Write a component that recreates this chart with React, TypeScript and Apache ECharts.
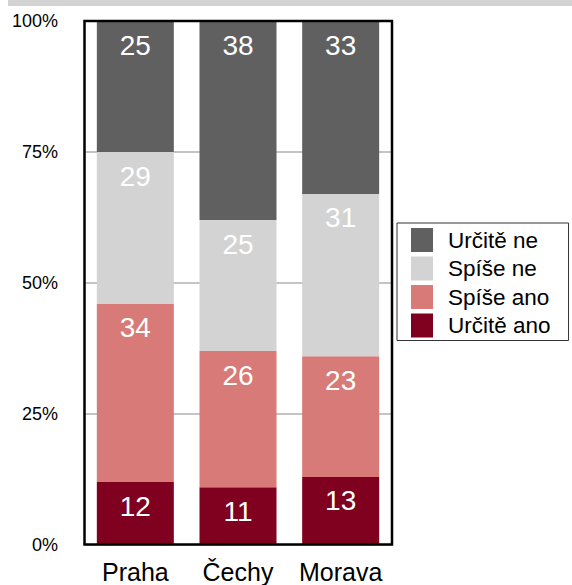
import React, { useEffect, useRef } from "react";
import * as echarts from "echarts";

const categories = ["Praha", "Čechy", "Morava"];
const seriesNames = ["Určitě ano", "Spíše ano", "Spíše ne", "Určitě ne"];
const urciteAno = [12, 11, 13];
const spiseAno = [34, 26, 23];
const spiseNe = [29, 25, 31];
const urciteNe = [25, 38, 33];
const colors = ["#800020", "#d87a77", "#d3d3d3", "#606060"];
const yTicks = [0, 25, 50, 75, 100];

export default function App() {
  const ref = useRef<HTMLDivElement>(null);
  useEffect(() => {
    if (!ref.current) return;
    const chart = echarts.init(ref.current, null, { renderer: "svg" });
    const values = [urciteAno, spiseAno, spiseNe, urciteNe];
    const font = "Liberation Sans, Arial, Helvetica, sans-serif";
    chart.setOption({
      animation: false,
      textStyle: { fontFamily: font },
      graphic: [
        { type: "rect", shape: { x: 8, y: 0, width: 564, height: 6 }, style: { fill: "#d3d3d3" }, silent: true },
        {
          type: "rect",
          z: 100,
          shape: { x: 84.5, y: 21, width: 307.5, height: 523.5 },
          style: { fill: "none", stroke: "#000", lineWidth: 2.5 },
          silent: true,
        },
      ],
      grid: {
        left: 84,
        top: 21,
        width: 308,
        height: 524,
        show: false,
      },
      legend: {
        orient: "vertical",
        left: 397,
        top: 223,
        data: [...seriesNames].reverse(),
        itemWidth: 22,
        itemHeight: 24,
        itemGap: 4.5,
        padding: [5, 18, 3, 14],
        borderColor: "#333",
        borderWidth: 1,
        icon: "rect",
        textStyle: { fontSize: 22.5, lineHeight: 22, color: "#000", fontFamily: font, padding: [0, 0, 0, 10] },
      },
      xAxis: {
        type: "category",
        data: categories,
        axisLine: { show: false },
        axisTick: { show: false },
        axisLabel: { fontSize: 25, color: "#000", margin: 14, fontFamily: font, interval: 0, hideOverlap: false },
      },
      yAxis: {
        type: "value",
        min: 0,
        max: 100,
        interval: 25,
        axisLine: { show: false },
        axisTick: { show: false },
        axisLabel: {
          fontSize: 18,
          color: "#000",
          margin: 26,
          fontFamily: font,
          formatter: (v: number) => (yTicks.includes(v) ? v + "%" : ""),
        },
        splitLine: { show: true, lineStyle: { color: "#c4c4c4", width: 2 } },
      },
      series: seriesNames.map((name, i) => ({
        name,
        type: "bar",
        stack: "total",
        barWidth: "75%",
        data: values[i],
        itemStyle: { color: colors[i] },
        label: {
          show: true,
          position: "insideTop",
          distance: 10,
          color: "#fff",
          fontSize: 28,
          fontFamily: font,
        },
        emphasis: { disabled: true },
      })),
    });
    return () => chart.dispose();
  }, []);
  return <div ref={ref} style={{ width: 572, height: 585, position: "absolute", left: 0, top: 0 }} />;
}
